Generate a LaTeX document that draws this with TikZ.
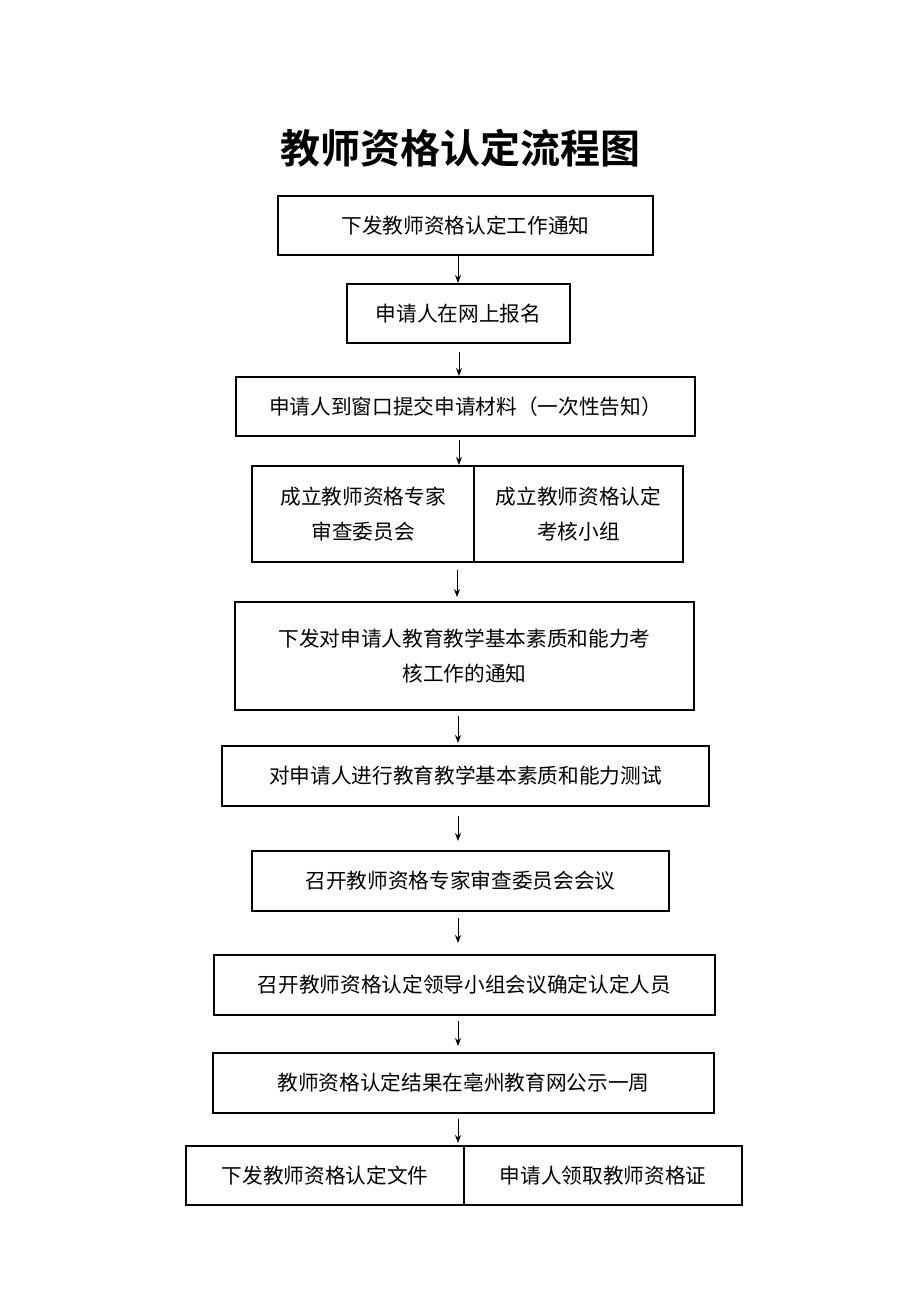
\documentclass[tikz,border=0pt]{standalone}
\usepackage{fontspec}
\newfontfamily\cjk{Noto Sans CJK SC}
\newfontfamily\cjkb{Noto Sans CJK SC Bold}
\usetikzlibrary{arrows.meta}
\begin{document}
\begin{tikzpicture}[x=0.75pt,y=-0.75pt,
  box/.style={draw,line width=0.8pt,inner sep=0pt,font=\cjk\fontsize{15.5pt}{26pt}\selectfont,align=center},
  arr/.style={-{Stealth[length=6pt,width=4.5pt]},line width=0.7pt}]
\useasboundingbox (0,0) rectangle (920,1302);
\newcommand\bx[6]{\node[box,minimum width={(#4-#2)*0.75pt},minimum height={(#5-#3)*0.75pt}] (#1) at ({(#2+#4)/2},{(#3+#5)/2}) {#6};}
\node[font=\cjkb\fontsize{30pt}{36pt}\selectfont] (t) at (460,148) {教师资格认定流程图};
\bx{a}{278}{196}{653}{255}{下发教师资格认定工作通知}
\bx{b}{347}{284}{570}{343}{申请人在网上报名}
\bx{c}{236}{377}{695}{436}{申请人到窗口提交申请材料（一次性告知）}
\bx{d1}{252}{466}{474}{562}{成立教师资格专家\\审查委员会}
\bx{d2}{474}{466}{683}{562}{成立教师资格认定\\考核小组}
\bx{e}{235}{602}{694}{710}{下发对申请人教育教学基本素质和能力考\\核工作的通知}
\bx{f}{222}{746}{709}{806}{对申请人进行教育教学基本素质和能力测试}
\bx{g}{252}{851}{669}{911}{召开教师资格专家审查委员会会议}
\bx{h}{214}{955}{715}{1015}{召开教师资格认定领导小组会议确定认定人员}
\bx{i}{213}{1053}{714}{1113}{教师资格认定结果在亳州教育网公示一周}
\bx{j1}{186}{1146}{464}{1205}{下发教师资格认定文件}
\bx{j2}{464}{1146}{742}{1205}{申请人领取教师资格证}
\coordinate (da) at (458,255); \coordinate (db) at (458,284);
\draw[arr] (458,255) -- (458,283);
\draw[arr] (459,352) -- (459,376);
\draw[arr] (459,440) -- (459,465);
\draw[arr] (457,570) -- (457,597);
\draw[arr] (458,716) -- (458,743);
\draw[arr] (458,816) -- (458,841);
\draw[arr] (458,918) -- (458,943);
\draw[arr] (458,1021) -- (458,1046);
\draw[arr] (458,1119) -- (458,1143);
\end{tikzpicture}
\end{document}
